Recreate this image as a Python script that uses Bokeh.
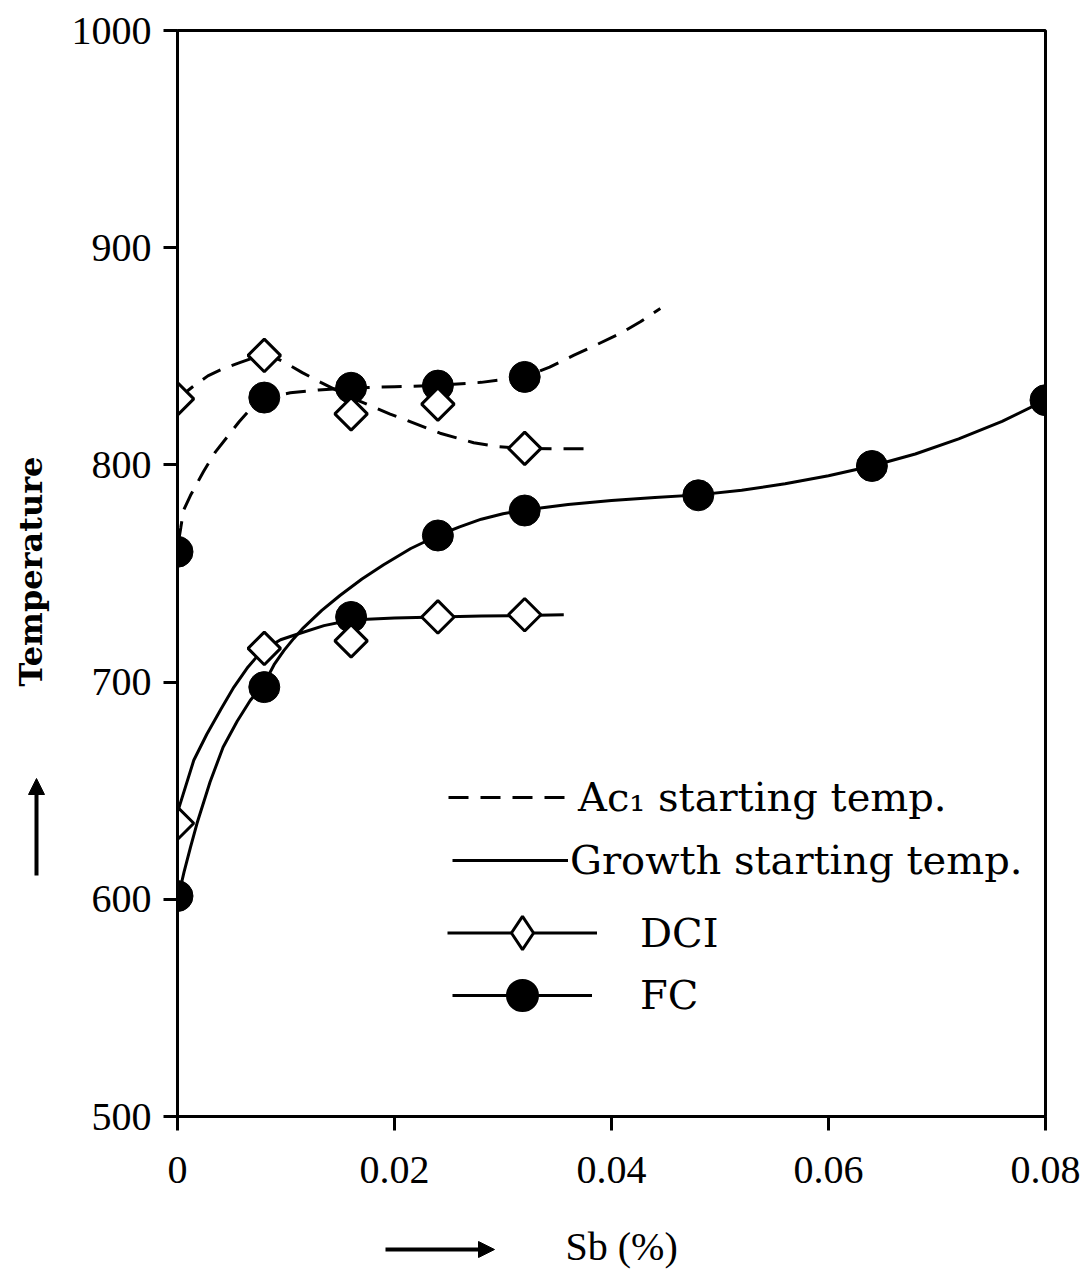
import math
from bokeh.plotting import figure
from bokeh.layouts import row, column
from bokeh.models import (Arrow, NormalHead, FixedTicker, CustomJSTickFormatter, Legend, LegendItem, Range1d)
from bokeh.core.properties import value
from bokeh.embed import file_html
from bokeh.resources import INLINE

# ---- measured points (Sb %, temperature) ----
sb_dci = [0, 0.008, 0.016, 0.024, 0.032]
dci_ac1 = [830.4, 850.4, 823.5, 828.0, 807.6]
fc_ac1 = [760.0, 831.0, 835.5, 836.5, 840.5]
dci_growth = [635.0, 715.5, 719.0, 730.0, 731.0]
sb_fc = [0, 0.008, 0.016, 0.024, 0.032, 0.048, 0.064, 0.08]
fc_growth = [601.5, 697.7, 730.0, 767.5, 779.0, 786.0, 799.5, 829.8]

# ---- fitted curves ----
fc_ac1_curve_x = [0.0001, 0.0003, 0.00055, 0.0012, 0.0024, 0.0035, 0.0046, 0.0057, 0.0067, 0.008, 0.0092, 0.0104,
                  0.013, 0.016, 0.02, 0.024, 0.028, 0.032, 0.0343, 0.0365, 0.0387, 0.0408, 0.0427, 0.0445]
fc_ac1_curve_y = [765, 771, 779, 786, 797, 806, 813, 820, 825.6, 829.5, 832, 833.2,
                  834.5, 835.4, 836, 836.6, 838, 840.5, 845, 850.4, 855.5, 860.5, 866, 872]
dci_ac1_curve_x = [0.0, 0.0014, 0.0028, 0.0043, 0.0058, 0.007, 0.008, 0.009, 0.0098, 0.0115, 0.0132, 0.016,
                   0.0181, 0.0196, 0.0212, 0.0242, 0.0273, 0.0296, 0.032, 0.035, 0.038]
dci_ac1_curve_y = [830.4, 836, 841, 844.5, 847.2, 849.3, 850.2, 849.3, 847.4, 842.5, 838, 831,
                   826.6, 823.4, 820.4, 814.6, 810.2, 808.4, 807.6, 807.4, 807.4]
dci_gr_curve_x = [0.0, 0.0015, 0.0027, 0.004, 0.0052, 0.0065, 0.0078, 0.0095, 0.0113, 0.0135, 0.016, 0.02, 0.024,
                  0.028, 0.032, 0.0356]
dci_gr_curve_y = [640, 664, 676, 687.5, 697.7, 707, 714.5, 719.5, 722.5, 726, 728.6, 729.5, 730,
                  730.4, 730.7, 731]
fc_gr_curve_x = [0.0003, 0.0006, 0.0012, 0.0018, 0.003, 0.0042, 0.0055, 0.0067, 0.008, 0.0089, 0.0098, 0.0107, 0.0116,
                 0.0133, 0.015, 0.017, 0.019, 0.0215, 0.024, 0.026, 0.028, 0.03, 0.032, 0.036, 0.04, 0.044, 0.048,
                 0.052, 0.056, 0.06, 0.064, 0.068, 0.072, 0.076, 0.08]
fc_gr_curve_y = [606, 612.5, 624, 635, 654, 670, 682, 691.5, 699.5, 708, 714.5, 720, 725,
                 733, 740, 747.5, 754, 761.5, 767.5, 771.5, 775, 777.5, 779.2, 781.8, 783.6, 785, 786.2,
                 788.3, 791.3, 795, 799.5, 805, 812, 820, 829.8]

x_ticks = [0, 0.02, 0.04, 0.06, 0.08]
y_ticks = [500, 600, 700, 800, 900, 1000]
y_title = "Temperature"
x_title = "Sb (%)"

SERIF = "Liberation Serif"
LEG = "DejaVu Serif"

LEFT_W = 60
TOTAL_W, TOTAL_H = 1082, 1270
MAIN_H = 1210
FRAME_L, FRAME_R = 177, 1045   # page pixels of the main plot frame

# ---------------- main chart ----------------
p = figure(width=TOTAL_W - LEFT_W, height=MAIN_H, x_range=(0, 0.08), y_range=(500, 1000),
           output_backend="svg", toolbar_location=None,
           min_border_left=FRAME_L - LEFT_W, min_border_right=TOTAL_W - FRAME_R,
           min_border_top=30, min_border_bottom=MAIN_H - 1116)
p.grid.visible = False
p.background_fill_color = "white"
p.outline_line_color = "black"
p.outline_line_width = 3

for ax in (p.xaxis[0], p.yaxis[0]):
    ax.axis_line_width = 3
    ax.axis_line_color = "black"
    ax.major_tick_line_width = 3
    ax.major_tick_in = 0
    ax.minor_tick_line_color = None
    ax.major_label_text_font = SERIF
    ax.major_label_text_font_size = "40px"
    ax.major_label_text_color = "black"

p.xaxis[0].ticker = FixedTicker(ticks=x_ticks)
p.xaxis[0].major_tick_out = 14
p.xaxis[0].major_label_standoff = 26
p.xaxis[0].formatter = CustomJSTickFormatter(code="return tick == 0 ? '0' : tick.toFixed(2);")
p.yaxis[0].ticker = FixedTicker(ticks=y_ticks)
p.yaxis[0].major_tick_out = 14
p.yaxis[0].major_label_standoff = 12

DASH = "20 12"
r_ac1_dci = p.line(dci_ac1_curve_x, dci_ac1_curve_y, line_color="black", line_width=3, line_dash=DASH)
r_ac1_fc = p.line(fc_ac1_curve_x, fc_ac1_curve_y, line_color="black", line_width=3, line_dash=DASH)
r_gr_dci = p.line(dci_gr_curve_x, dci_gr_curve_y, line_color="black", line_width=3)
r_gr_fc = p.line(fc_gr_curve_x, fc_gr_curve_y, line_color="black", line_width=3)

r_fc1 = p.scatter(sb_dci, fc_ac1, marker="circle", size=31, fill_color="black", line_color="black")
r_fc2 = p.scatter(sb_fc, fc_growth, marker="circle", size=31, fill_color="black", line_color="black")
r_dci1 = p.scatter(sb_dci, dci_ac1, marker="square", angle=math.pi/4, size=23, fill_color="white",
                   line_color="black", line_width=3)
r_dci2 = p.scatter(sb_dci, dci_growth, marker="square", angle=math.pi/4, size=23, fill_color="white",
                   line_color="black", line_width=3)
# legend-only key markers, kept outside the visible ranges (legend swatches ignore marker rotation)
r_dci_key = p.scatter([-1], [0], marker="diamond", fill_color="white", line_color="black", line_width=3)
r_fc_key = p.scatter([-1], [0], marker="circle", fill_color="black", line_color="black", line_width=5)


def legend_row(label, renderers, loc, gw, gh, standoff):
    lg = Legend(items=[LegendItem(label=label, renderers=renderers)], location=loc,
                glyph_width=gw, glyph_height=gh, label_standoff=standoff, label_height=gh,
                label_text_font=LEG, label_text_font_size="40px", label_text_color="black",
                border_line_color=None, background_fill_alpha=0, padding=0, margin=0, spacing=0)
    p.add_layout(lg, "center")


legend_row("Ac\u2081 starting temp.", [r_ac1_fc], (271, 294), 122, 50, 8)
legend_row("Growth starting temp.", [r_gr_fc], (275, 231), 116, 50, 2)
legend_row("DCI", [r_gr_dci, r_dci_key], (270, 142), 150, 83, 43)
legend_row("FC", [r_gr_fc, r_fc_key], (275, 86), 140, 70, 48)

# ---------------- left strip: y title with arrow ----------------
pl = figure(width=LEFT_W, height=TOTAL_H, x_range=Range1d(0, LEFT_W), y_range=Range1d(TOTAL_H, 0),
            output_backend="svg", toolbar_location=None, x_axis_location=None, y_axis_location=None,
            min_border=0)
pl.grid.visible = False
pl.outline_line_color = None
pl.text(x=[30], y=[571], text=[y_title], angle=math.pi/2, text_align="center", text_baseline="middle",
        text_font=value(LEG), text_font_style="bold", text_font_size="32px", text_color="black")
pl.add_layout(Arrow(x_start=36, y_start=875, x_end=36, y_end=778, line_width=4, line_color="black",
                    end=NormalHead(size=16, fill_color="black", line_color="black")))

# ---------------- bottom strip: x title with arrow ----------------
# its frame is aligned with the main frame by the column layout, so its x range spans the same page pixels
pb = figure(width=TOTAL_W - LEFT_W, height=TOTAL_H - MAIN_H, x_range=Range1d(FRAME_L, FRAME_R),
            y_range=Range1d(TOTAL_H, MAIN_H), output_backend="svg", toolbar_location=None,
            x_axis_location=None, y_axis_location=None, min_border=0)
pb.grid.visible = False
pb.outline_line_color = None
pb.text(x=[565], y=[1246], text=[x_title], text_align="left", text_baseline="middle",
        text_font=value(SERIF), text_font_size="40px", text_color="black")
pb.add_layout(Arrow(x_start=385, y_start=1249, x_end=494, y_end=1249, line_width=4, line_color="black",
                    end=NormalHead(size=16, fill_color="black", line_color="black")))

layout = row(pl, column(p, pb))
open("out.html", "w").write(file_html(layout, INLINE))
